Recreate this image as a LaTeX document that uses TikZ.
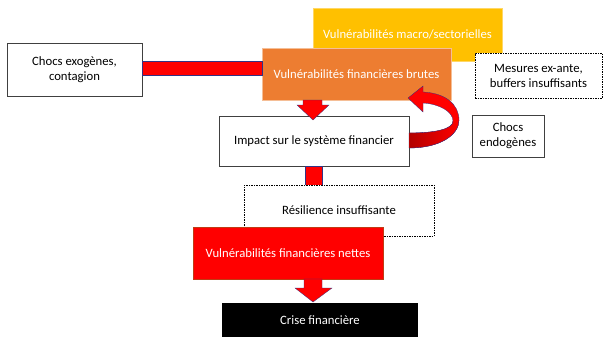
\documentclass[tikz,border=0pt]{standalone}
\usepackage{fontspec}
\setmainfont{Carlito}
\begin{document}
\begin{tikzpicture}[x=1pt,y=-1pt,
  box/.style={rectangle,inner sep=2pt,align=center,font=\fontsize{12.7}{15}\selectfont},
  plain/.style={box,draw=black!75,line width=0.7pt,fill=white},
  dashbox/.style={box,draw=black,line width=0.6pt,dash pattern=on 1.5pt off 1pt,fill=white},
  arr/.style={fill=red,draw=blue!40!black!80,line width=0.3pt}]
\useasboundingbox (0,0) rectangle (603,338);
% boxes
\node[box,fill={rgb,255:red,255;green,192;blue,0},draw={rgb,255:red,255;green,215;blue,100},line width=0.6pt,text=white,minimum width=189pt,minimum height=53pt] (macro) at (407.5,34.5) {Vulnérabilités macro/sectorielles};
\node[box,fill={rgb,255:red,237;green,125;blue,49},draw={rgb,255:red,245;green,190;blue,150},line width=0.6pt,text=white,minimum width=189pt,minimum height=52pt] (brutes) at (356.5,74) {Vulnérabilités financières brutes};
\node[plain,minimum width=135pt,minimum height=53pt] (exo) at (74.5,69.5) {Chocs exogènes,\\contagion};
\node[dashbox,minimum width=127pt,minimum height=45pt] (mes) at (538.5,75.5) {Mesures ex-ante,\\buffers insuffisants};
% bar exo -> brutes
\path[arr] (exo.east |- 0,61) rectangle (brutes.west |- 0,75);
\node[plain,minimum width=190pt,minimum height=50pt] (imp) at (314,141) {Impact sur le système financier};
\node[plain,minimum width=72pt,minimum height=42pt] (endo) at (508,136) {Chocs\\endogènes};
% arrow brutes -> impact
\path[arr] (303,100) -- (303,105) -- (297,105) -- (313,120) -- (329,105) -- (322,105) -- (322,100) -- cycle;
% curved arrow
\path[arr] (409,148) .. controls (440,148) and (459,135) .. (459,120)
  .. controls (459,104) and (445,93) .. (423,92) -- (423,86) -- (408,98) -- (423,112) -- (423,103)
  .. controls (440,104) and (453,112) .. (453,121)
  .. controls (453,129) and (436,133) .. (409,133) -- cycle;
\shade[left color=red!70!black,right color=red] (409,148) .. controls (440,148) and (459,135) .. (459,120)
  -- (453,121) .. controls (453,129) and (436,133) .. (409,133) -- cycle;
\draw[blue!40!black!80,line width=0.3pt] (409,148) .. controls (440,148) and (459,135) .. (459,120)
  (453,121) .. controls (453,129) and (436,133) .. (409,133);
% shaft impact -> resilience
\path[arr] (305,166) rectangle (322,185);
\node[dashbox,minimum width=190pt,minimum height=51pt] (res) at (339,210.5) {Résilience insuffisante};
\node[box,fill=red,draw={rgb,255:red,192;green,60;blue,20},line width=0.6pt,text=white,minimum width=190pt,minimum height=52pt] (nettes) at (288,253) {Vulnérabilités financières nettes};
% arrow nettes -> crise
\path[arr] (304,279) -- (304,288) -- (295,288) -- (313,302) -- (332,288) -- (322,288) -- (322,279) -- cycle;
\node[box,fill=black,text=white,minimum width=196pt,minimum height=34pt] (crise) at (320,320) {Crise financière};
\end{tikzpicture}
\end{document}
